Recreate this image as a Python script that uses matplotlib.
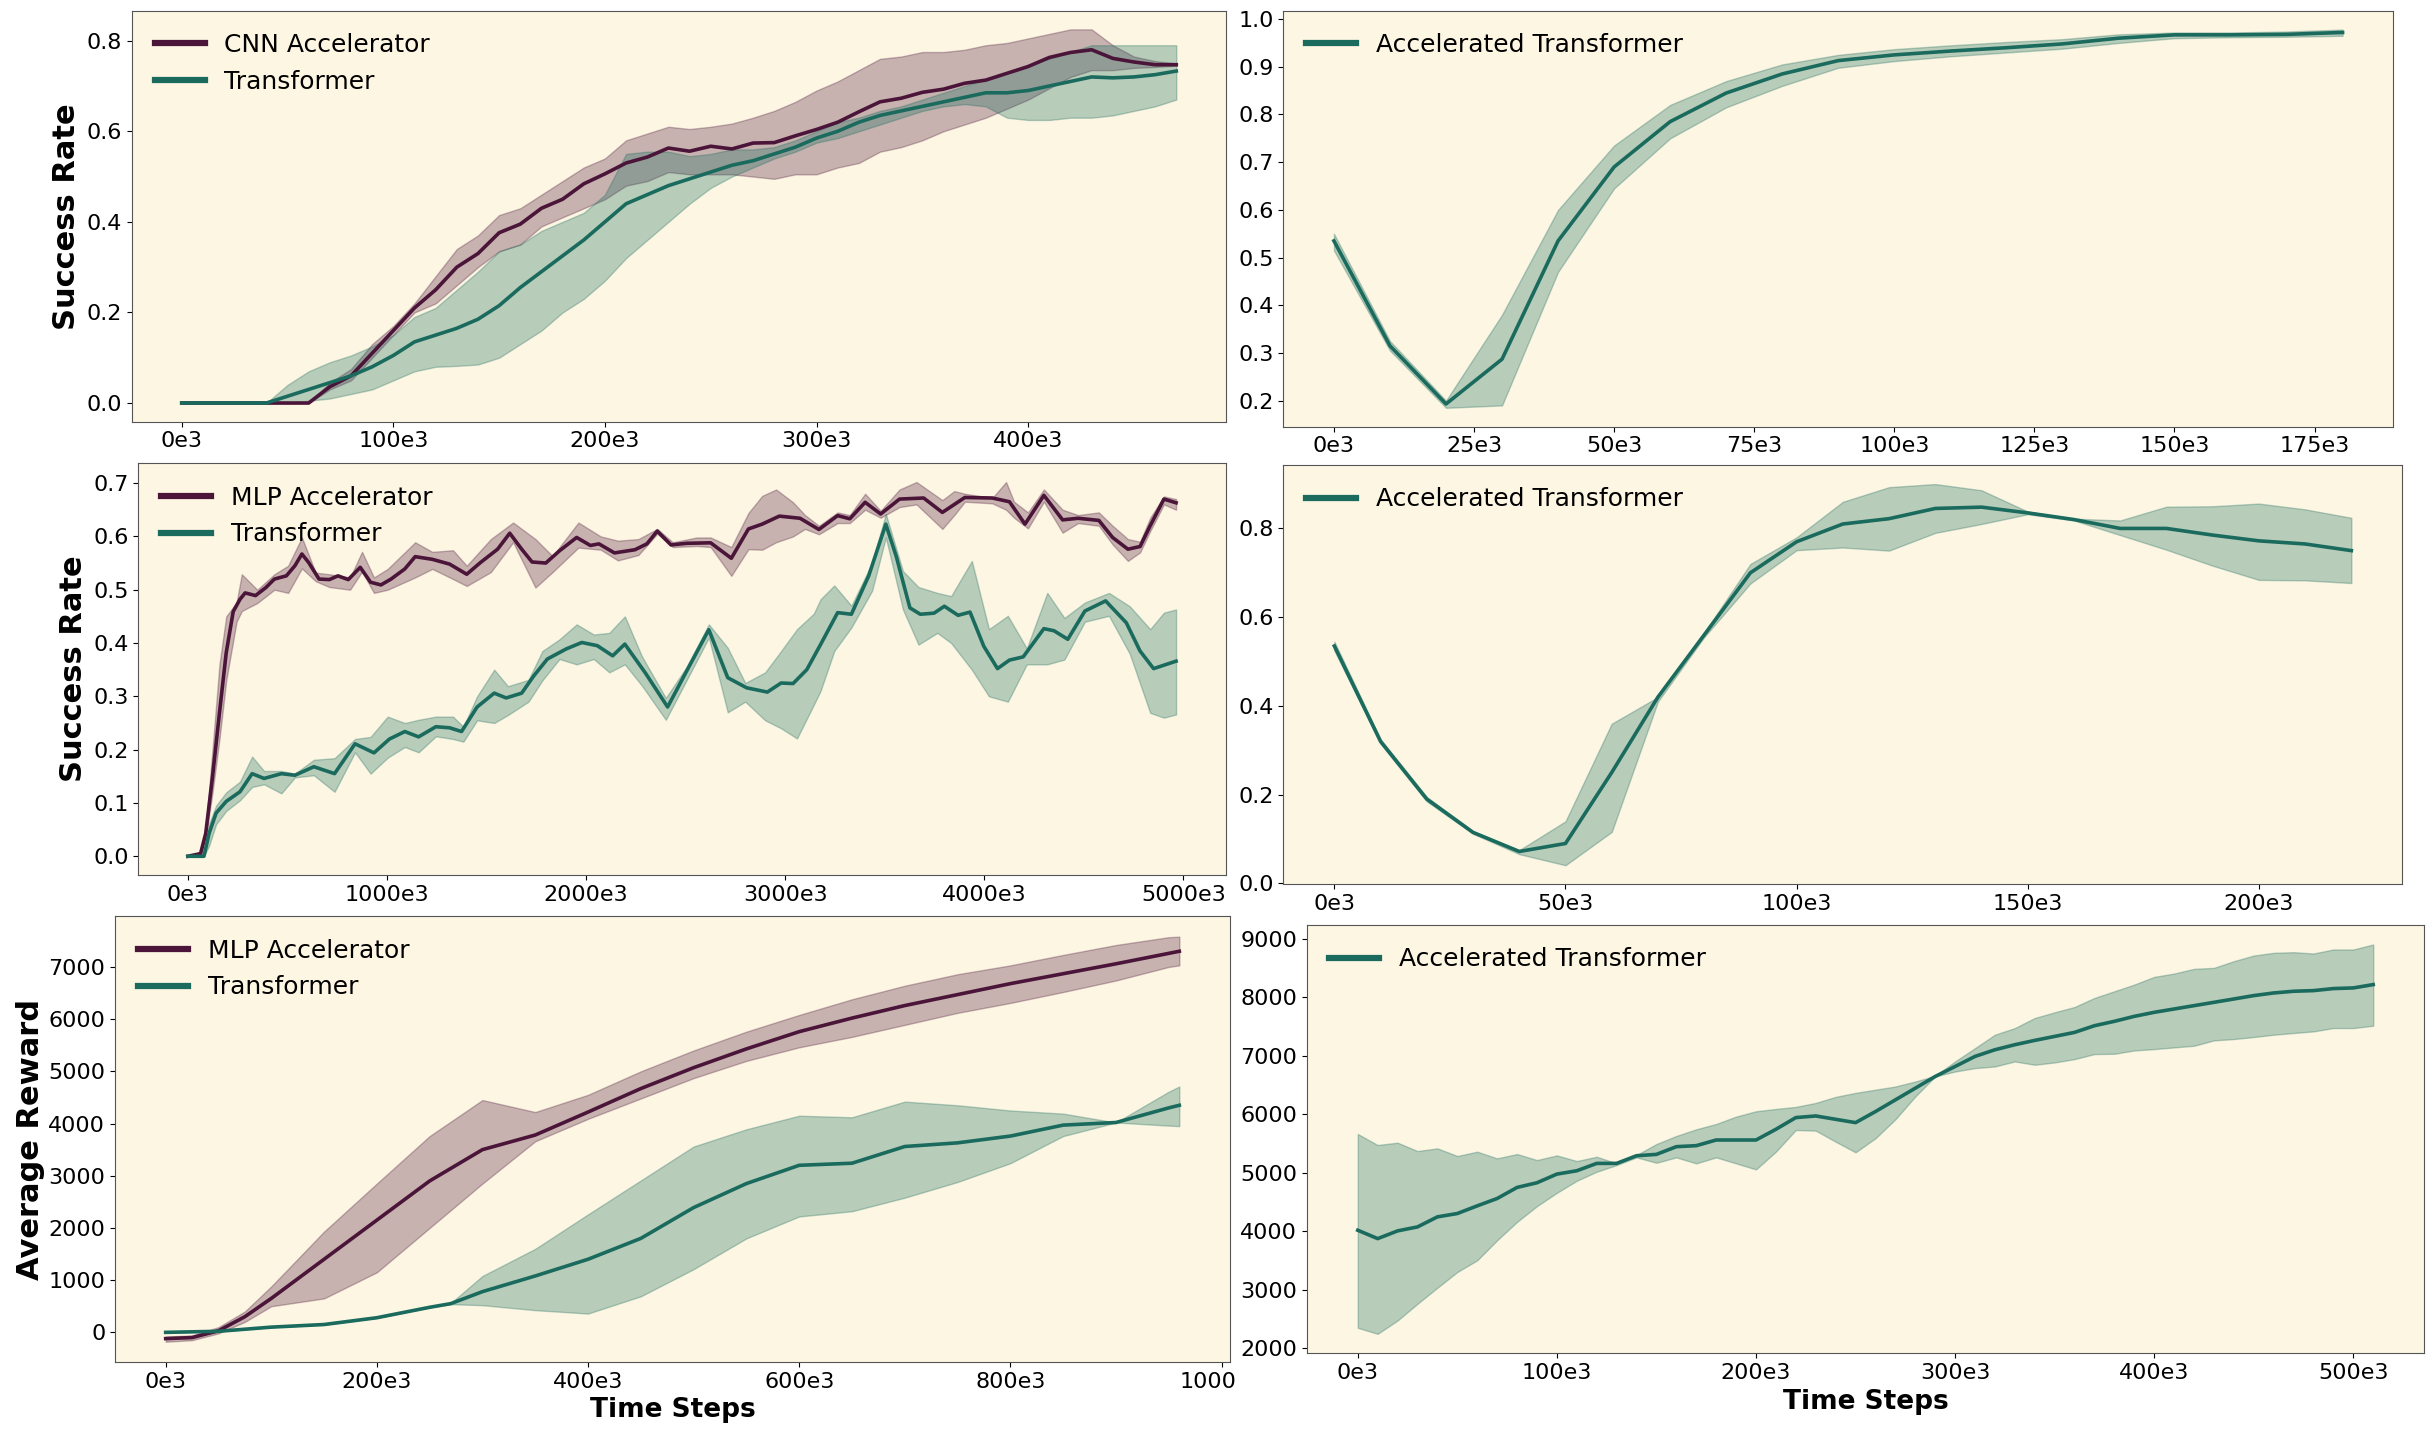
import matplotlib
matplotlib.use("Agg")
import matplotlib.pyplot as plt
from matplotlib.ticker import FuncFormatter, MultipleLocator
from matplotlib.patches import Rectangle

# colours
PURPLE = "#4b1539"
TEAL = "#1a6b5d"
BG = "#fdf6e3"

# ---- top left: CNN accelerator vs transformer (x in 1e3 steps)
p1_x = list(range(0, 480, 10))
cnn_mean = [0, 0, 0, 0, 0, 0, 0, 0.036, 0.06, 0.11, 0.16, 0.21, 0.25, 0.30, 0.33, 0.376, 0.395,
            0.43, 0.45, 0.484, 0.506, 0.53, 0.543, 0.563, 0.556, 0.567, 0.561, 0.574, 0.575, 0.59,
            0.604, 0.62, 0.643, 0.665, 0.673, 0.686, 0.693, 0.706, 0.713, 0.728, 0.743, 0.763,
            0.774, 0.78, 0.761, 0.753, 0.747, 0.747]
cnn_hi = [0, 0, 0, 0, 0, 0, 0, 0.045, 0.075, 0.13, 0.17, 0.22, 0.28, 0.34, 0.37, 0.415, 0.43,
          0.46, 0.49, 0.52, 0.54, 0.58, 0.595, 0.61, 0.605, 0.61, 0.617, 0.63, 0.645, 0.665, 0.69,
          0.71, 0.735, 0.76, 0.765, 0.775, 0.775, 0.78, 0.79, 0.795, 0.805, 0.815, 0.825, 0.825,
          0.79, 0.765, 0.755, 0.75]
cnn_lo = [0, 0, 0, 0, 0, 0, 0, 0.03, 0.05, 0.1, 0.15, 0.2, 0.22, 0.26, 0.30, 0.335, 0.35, 0.39,
          0.41, 0.43, 0.45, 0.48, 0.49, 0.51, 0.505, 0.505, 0.505, 0.5, 0.495, 0.505, 0.505, 0.52,
          0.53, 0.555, 0.565, 0.58, 0.6, 0.615, 0.63, 0.65, 0.67, 0.695, 0.72, 0.735, 0.735, 0.74,
          0.742, 0.745]
tr1_mean = [0, 0, 0, 0, 0, 0.015, 0.03, 0.045, 0.06, 0.08, 0.105, 0.135, 0.15, 0.165, 0.185,
            0.215, 0.255, 0.29, 0.325, 0.36, 0.40, 0.44, 0.46, 0.48, 0.495, 0.51, 0.525, 0.535,
            0.55, 0.565, 0.585, 0.60, 0.62, 0.635, 0.645, 0.655, 0.665, 0.675, 0.685, 0.685, 0.69,
            0.70, 0.71, 0.72, 0.718, 0.72, 0.725, 0.733]
tr1_hi = [0, 0, 0, 0, 0, 0.04, 0.07, 0.09, 0.105, 0.125, 0.15, 0.19, 0.21, 0.25, 0.29, 0.335,
          0.35, 0.38, 0.40, 0.42, 0.46, 0.55, 0.555, 0.555, 0.545, 0.55, 0.56, 0.56, 0.565, 0.58,
          0.60, 0.62, 0.63, 0.645, 0.655, 0.67, 0.685, 0.70, 0.715, 0.73, 0.745, 0.76, 0.775,
          0.79, 0.79, 0.79, 0.79, 0.79]
tr1_lo = [0, 0, 0, 0, 0, 0.0, 0.005, 0.01, 0.02, 0.03, 0.05, 0.07, 0.08, 0.082, 0.085, 0.1,
          0.13, 0.16, 0.2, 0.23, 0.27, 0.32, 0.36, 0.40, 0.44, 0.475, 0.50, 0.52, 0.54, 0.555,
          0.575, 0.585, 0.6, 0.615, 0.63, 0.645, 0.655, 0.66, 0.655, 0.63, 0.625, 0.625, 0.63,
          0.63, 0.635, 0.645, 0.655, 0.67]

# ---- top right: accelerated transformer
p2_x = list(range(0, 190, 10))
at2_mean = [0.535, 0.315, 0.193, 0.287, 0.535, 0.69, 0.785, 0.845, 0.885, 0.913, 0.925, 0.933,
            0.94, 0.948, 0.96, 0.967, 0.967, 0.968, 0.972]
at2_hi = [0.55, 0.325, 0.2, 0.38, 0.6, 0.735, 0.82, 0.87, 0.905, 0.925, 0.937, 0.945, 0.952,
          0.958, 0.968, 0.972, 0.972, 0.974, 0.978]
at2_lo = [0.515, 0.305, 0.185, 0.19, 0.47, 0.645, 0.75, 0.815, 0.86, 0.898, 0.912, 0.922, 0.93,
          0.938, 0.95, 0.96, 0.962, 0.963, 0.965]

# ---- middle left: MLP accelerator vs transformer
mlp3_x = [0, 64, 90, 124, 159, 193, 228, 262, 288, 340, 392, 435, 495, 538, 573, 607, 659, 711,
          754, 806, 866, 918, 970, 1021, 1090, 1142, 1228, 1315, 1401, 1470, 1556, 1617, 1677,
          1729, 1798, 1867, 1953, 2022, 2065, 2143, 2246, 2306, 2358, 2427, 2505, 2626, 2730,
          2816, 2885, 2971, 3075, 3170, 3264, 3325, 3402, 3480, 3575, 3696, 3790, 3903, 4041,
          4127, 4205, 4300, 4394, 4472, 4576, 4645, 4722, 4783, 4834, 4903, 4964]
mlp3_mean = [0, 0.005, 0.043, 0.149, 0.269, 0.382, 0.459, 0.482, 0.494, 0.489, 0.504, 0.52,
             0.526, 0.545, 0.567, 0.551, 0.52, 0.519, 0.526, 0.519, 0.542, 0.514, 0.509, 0.52,
             0.539, 0.562, 0.557, 0.548, 0.529, 0.551, 0.576, 0.606, 0.576, 0.552, 0.55, 0.573,
             0.598, 0.583, 0.586, 0.569, 0.575, 0.586, 0.61, 0.584, 0.587, 0.588, 0.559, 0.614,
             0.623, 0.638, 0.634, 0.613, 0.639, 0.633, 0.664, 0.642, 0.670, 0.672, 0.645, 0.673,
             0.672, 0.665, 0.623, 0.677, 0.631, 0.634, 0.630, 0.598, 0.576, 0.581, 0.620, 0.670,
             0.663]
mlp3_bx = [0, 64, 90, 124, 159, 193, 245, 271, 349, 435, 504, 573, 642, 711, 815, 875, 935, 1004,
           1142, 1228, 1332, 1401, 1522, 1634, 1746, 1832, 1962, 2074, 2160, 2263, 2358, 2436,
           2557, 2626, 2730, 2816, 2885, 2955, 3040, 3100, 3170, 3264, 3325, 3402, 3480, 3575,
           3660, 3790, 3850, 3903, 4041, 4110, 4150, 4220, 4300, 4394, 4472, 4576, 4645, 4722,
           4783, 4834, 4903, 4964]
mlp3_hi = [0, 0.008, 0.05, 0.2, 0.36, 0.45, 0.476, 0.529, 0.50, 0.529, 0.545, 0.598, 0.532,
           0.529, 0.523, 0.571, 0.523, 0.539, 0.589, 0.571, 0.574, 0.545, 0.595, 0.626, 0.595,
           0.563, 0.626, 0.60, 0.592, 0.595, 0.614, 0.589, 0.598, 0.598, 0.58, 0.644, 0.676,
           0.688, 0.664, 0.64, 0.62, 0.645, 0.64, 0.68, 0.648, 0.688, 0.702, 0.668, 0.685, 0.68,
           0.672, 0.702, 0.665, 0.645, 0.688, 0.65, 0.64, 0.645, 0.62, 0.595, 0.59, 0.635, 0.675,
           0.67]
mlp3_lo = [0, 0.0, 0.035, 0.12, 0.22, 0.33, 0.44, 0.46, 0.475, 0.50, 0.494, 0.54, 0.516, 0.505,
           0.50, 0.534, 0.494, 0.50, 0.523, 0.539, 0.52, 0.507, 0.533, 0.589, 0.504, 0.533, 0.579,
           0.575, 0.555, 0.565, 0.605, 0.58, 0.582, 0.58, 0.526, 0.576, 0.575, 0.589, 0.60, 0.614,
           0.604, 0.625, 0.625, 0.65, 0.635, 0.655, 0.66, 0.614, 0.64, 0.665, 0.662, 0.65, 0.635,
           0.615, 0.665, 0.607, 0.625, 0.62, 0.585, 0.554, 0.57, 0.61, 0.66, 0.65]
tr3_x = [0, 81, 107, 142, 193, 262, 323, 383, 470, 538, 633, 737, 840, 935, 1013, 1090, 1159,
         1246, 1315, 1375, 1453, 1539, 1599, 1677, 1737, 1806, 1901, 1979, 2057, 2134, 2195,
         2298, 2410, 2505, 2617, 2712, 2807, 2911, 2980, 3040, 3109, 3178, 3264, 3333, 3420,
         3506, 3558, 3627, 3679, 3748, 3800, 3869, 3929, 3998, 4067, 4127, 4196, 4300, 4351,
         4420, 4506, 4610, 4714, 4783, 4851, 4964]
tr3_mean = [0, 0.0, 0.043, 0.081, 0.103, 0.121, 0.155, 0.146, 0.155, 0.152, 0.168, 0.155, 0.211,
            0.194, 0.22, 0.234, 0.224, 0.243, 0.241, 0.234, 0.28, 0.306, 0.297, 0.306, 0.338,
            0.37, 0.389, 0.401, 0.395, 0.376, 0.398, 0.344, 0.28, 0.347, 0.425, 0.335, 0.316,
            0.308, 0.325, 0.324, 0.35, 0.397, 0.457, 0.454, 0.526, 0.623, 0.563, 0.466, 0.454,
            0.456, 0.469, 0.452, 0.458, 0.394, 0.352, 0.368, 0.374, 0.427, 0.423, 0.407, 0.46,
            0.479, 0.438, 0.385, 0.352, 0.366]
tr3_bx = [0, 81, 107, 142, 193, 262, 323, 383, 470, 538, 633, 737, 840, 918, 1004, 1090, 1159,
          1246, 1332, 1384, 1453, 1539, 1608, 1711, 1781, 1867, 1953, 2039, 2117, 2195, 2281,
          2401, 2505, 2617, 2712, 2800, 2900, 2980, 3060, 3144, 3178, 3247, 3333, 3437, 3506,
          3592, 3670, 3765, 3834, 3938, 4024, 4119, 4214, 4317, 4403, 4506, 4627, 4731, 4834,
          4903, 4964]
tr3_hi = [0, 0.005, 0.061, 0.095, 0.12, 0.14, 0.187, 0.16, 0.16, 0.155, 0.181, 0.184, 0.22,
          0.224, 0.262, 0.25, 0.256, 0.262, 0.262, 0.243, 0.30, 0.35, 0.319, 0.331, 0.385, 0.407,
          0.435, 0.416, 0.419, 0.45, 0.375, 0.297, 0.355, 0.435, 0.391, 0.325, 0.345, 0.385,
          0.426, 0.455, 0.482, 0.508, 0.47, 0.55, 0.642, 0.535, 0.505, 0.494, 0.488, 0.554,
          0.426, 0.451, 0.39, 0.494, 0.447, 0.476, 0.494, 0.469, 0.426, 0.457, 0.463]
tr3_lo = [0, 0.0, 0.02, 0.06, 0.085, 0.105, 0.13, 0.135, 0.118, 0.148, 0.152, 0.121, 0.195,
          0.155, 0.185, 0.205, 0.195, 0.225, 0.22, 0.215, 0.255, 0.25, 0.265, 0.29, 0.33, 0.37,
          0.36, 0.37, 0.345, 0.36, 0.32, 0.256, 0.33, 0.41, 0.27, 0.29, 0.255, 0.24, 0.221,
          0.284, 0.31, 0.385, 0.429, 0.498, 0.598, 0.463, 0.397, 0.419, 0.40, 0.35, 0.30, 0.29,
          0.36, 0.36, 0.369, 0.44, 0.451, 0.38, 0.269, 0.26, 0.266]

# ---- middle right: accelerated transformer
p4_x = list(range(0, 230, 10))
at4_mean = [0.535, 0.32, 0.19, 0.115, 0.072, 0.09, 0.25, 0.42, 0.56, 0.70, 0.77, 0.81, 0.822,
            0.845, 0.848, 0.835, 0.82, 0.80, 0.80, 0.785, 0.772, 0.765, 0.75]
at4_hi = [0.545, 0.325, 0.195, 0.118, 0.075, 0.14, 0.36, 0.42, 0.565, 0.72, 0.78, 0.86, 0.893,
          0.9, 0.886, 0.838, 0.822, 0.818, 0.849, 0.85, 0.856, 0.843, 0.824]
at4_lo = [0.525, 0.315, 0.185, 0.112, 0.066, 0.041, 0.116, 0.41, 0.555, 0.676, 0.751, 0.757,
          0.75, 0.79, 0.81, 0.832, 0.818, 0.785, 0.752, 0.716, 0.684, 0.683, 0.677]

# ---- bottom left: average reward, MLP accelerator vs transformer
mlp5_x = [0, 25, 50, 75, 100, 150, 200, 250, 300, 350, 400, 450, 500, 550, 600, 650, 700, 750,
          800, 850, 900, 950, 960]
mlp5_mean = [-120, -100, 30, 300, 650, 1400, 2150, 2900, 3500, 3780, 4220, 4670, 5070, 5430,
             5760, 6020, 6260, 6470, 6680, 6870, 7060, 7260, 7300]
mlp5_hi = [-80, -60, 100, 400, 880, 1930, 2850, 3760, 4450, 4220, 4550, 5000, 5400, 5760, 6080,
           6380, 6640, 6860, 7030, 7230, 7420, 7570, 7580]
mlp5_lo = [-180, -150, -20, 200, 500, 650, 1150, 2000, 2850, 3660, 4090, 4480, 4870, 5200, 5460,
           5660, 5890, 6120, 6310, 6520, 6740, 7000, 7030]
tr5_x = [0, 50, 100, 150, 200, 250, 270, 300, 350, 400, 450, 500, 550, 600, 650, 700, 750, 800,
         850, 900, 950, 960]
tr5_mean = [0, 20, 100, 150, 280, 480, 550, 780, 1080, 1400, 1800, 2390, 2850, 3200, 3240, 3560,
            3630, 3760, 3970, 4020, 4300, 4350]
tr5_hi = [0, 20, 100, 150, 280, 480, 560, 1080, 1600, 2260, 2910, 3560, 3890, 4150, 4120, 4420,
          4350, 4250, 4190, 4020, 4610, 4710]
tr5_lo = [0, 20, 100, 150, 280, 480, 540, 520, 425, 360, 690, 1210, 1800, 2220, 2320, 2580,
          2880, 3240, 3760, 4020, 3960, 3950]

# ---- bottom right: accelerated transformer reward
p6_x = list(range(0, 520, 10))
at6_mean = [4017, 3874, 4006, 4074, 4246, 4303, 4434, 4560, 4749, 4829, 4977, 5034, 5160, 5160,
            5291, 5314, 5446, 5463, 5560, 5560, 5560, 5743, 5943, 5971, 5914, 5857, 6046, 6246,
            6446, 6646, 6817, 6989, 7103, 7189, 7263, 7331, 7400, 7514, 7589, 7674, 7743, 7800,
            7857, 7914, 7971, 8029, 8074, 8103, 8114, 8149, 8160, 8217]
at6_hi = [5663, 5474, 5514, 5371, 5417, 5286, 5360, 5246, 5320, 5217, 5297, 5200, 5274, 5160,
          5303, 5491, 5629, 5743, 5834, 5960, 6051, 6091, 6126, 6194, 6297, 6366, 6420, 6475,
          6560, 6657, 6903, 7131, 7360, 7474, 7646, 7743, 7834, 7989, 8103, 8217, 8349, 8406,
          8486, 8503, 8617, 8714, 8760, 8771, 8749, 8817, 8817, 8903]
at6_lo = [2349, 2246, 2474, 2760, 3034, 3303, 3503, 3846, 4160, 4429, 4657, 4863, 5017, 5131,
          5263, 5171, 5263, 5160, 5263, 5160, 5057, 5360, 5731, 5720, 5531, 5349, 5589, 5914,
          6303, 6646, 6731, 6789, 6817, 6903, 6846, 6886, 6943, 7029, 7034, 7091, 7114, 7143,
          7171, 7263, 7286, 7320, 7360, 7389, 7417, 7474, 7474, 7514]

W, H = 2434, 1434


def box(l, t, r, b):
    return [l / W, 1 - b / H, (r - l) / W, (b - t) / H]


def k(xs):
    return [v * 1000 for v in xs]


def band(ax, x, mean, lo, hi, color, label, bx=None):
    if bx is None:
        bx = x
    ax.fill_between(k(bx), lo, hi, color=color, alpha=0.3)
    ax.plot(k(x), mean, color=color, lw=2.6, label=label)


def style(ax, xstep, ystep):
    ax.set_facecolor(BG)
    ax.xaxis.set_major_locator(MultipleLocator(xstep * 1000))
    ax.yaxis.set_major_locator(MultipleLocator(ystep))
    ax.xaxis.set_major_formatter(FuncFormatter(lambda v, p: "%de3" % round(v / 1000)))
    ax.tick_params(labelsize=16)
    for s in ax.spines.values():
        s.set_color("#555555")
    leg = ax.legend(loc="upper left", frameon=False, fontsize=18)
    for ln in leg.get_lines():
        ln.set_linewidth(4.5)


fig = plt.figure(figsize=(W / 100, H / 100), dpi=100)

ax1 = fig.add_axes(box(132, 10.7, 1226, 421.7))
band(ax1, p1_x, cnn_mean, cnn_lo, cnn_hi, PURPLE, "CNN Accelerator")
band(ax1, p1_x, tr1_mean, tr1_lo, tr1_hi, TEAL, "Transformer")
style(ax1, 100, 0.2)
ax1.set_ylabel("Success Rate", fontsize=22, fontweight="bold")

ax3 = fig.add_axes(box(138.4, 463.3, 1225.5, 875))
band(ax3, mlp3_x, mlp3_mean, mlp3_lo, mlp3_hi, PURPLE, "MLP Accelerator", mlp3_bx)
band(ax3, tr3_x, tr3_mean, tr3_lo, tr3_hi, TEAL, "Transformer", tr3_bx)
style(ax3, 1000, 0.1)
ax3.set_ylabel("Success Rate", fontsize=22, fontweight="bold")

ax5 = fig.add_axes(box(115, 916.4, 1230, 1362))
band(ax5, mlp5_x, mlp5_mean, mlp5_lo, mlp5_hi, PURPLE, "MLP Accelerator")
band(ax5, tr5_x, tr5_mean, tr5_lo, tr5_hi, TEAL, "Transformer")
style(ax5, 200, 1000)
ax5.set_ylabel("Average Reward", fontsize=22, fontweight="bold", labelpad=2)
ax5.set_xlabel("Time Steps", fontsize=19, fontweight="bold")

# white strip: the right column covers the overflowing last tick label
fig.patches.append(Rectangle((1236 / W, 0), 1 - 1236 / W, 1, transform=fig.transFigure,
                             facecolor="white", edgecolor="none", zorder=1))

ax2 = fig.add_axes(box(1283.5, 10.7, 2393, 426.7), zorder=2)
band(ax2, p2_x, at2_mean, at2_lo, at2_hi, TEAL, "Accelerated Transformer")
style(ax2, 25, 0.1)

ax4 = fig.add_axes(box(1283.5, 465, 2402.2, 884.3), zorder=2)
band(ax4, p4_x, at4_mean, at4_lo, at4_hi, TEAL, "Accelerated Transformer")
style(ax4, 50, 0.2)

ax6 = fig.add_axes(box(1307, 925, 2424, 1353.3), zorder=2)
band(ax6, p6_x, at6_mean, at6_lo, at6_hi, TEAL, "Accelerated Transformer")
style(ax6, 100, 1000)
ax6.set_xlabel("Time Steps", fontsize=19, fontweight="bold")

fig.savefig("out.png", dpi=100, facecolor="white")
